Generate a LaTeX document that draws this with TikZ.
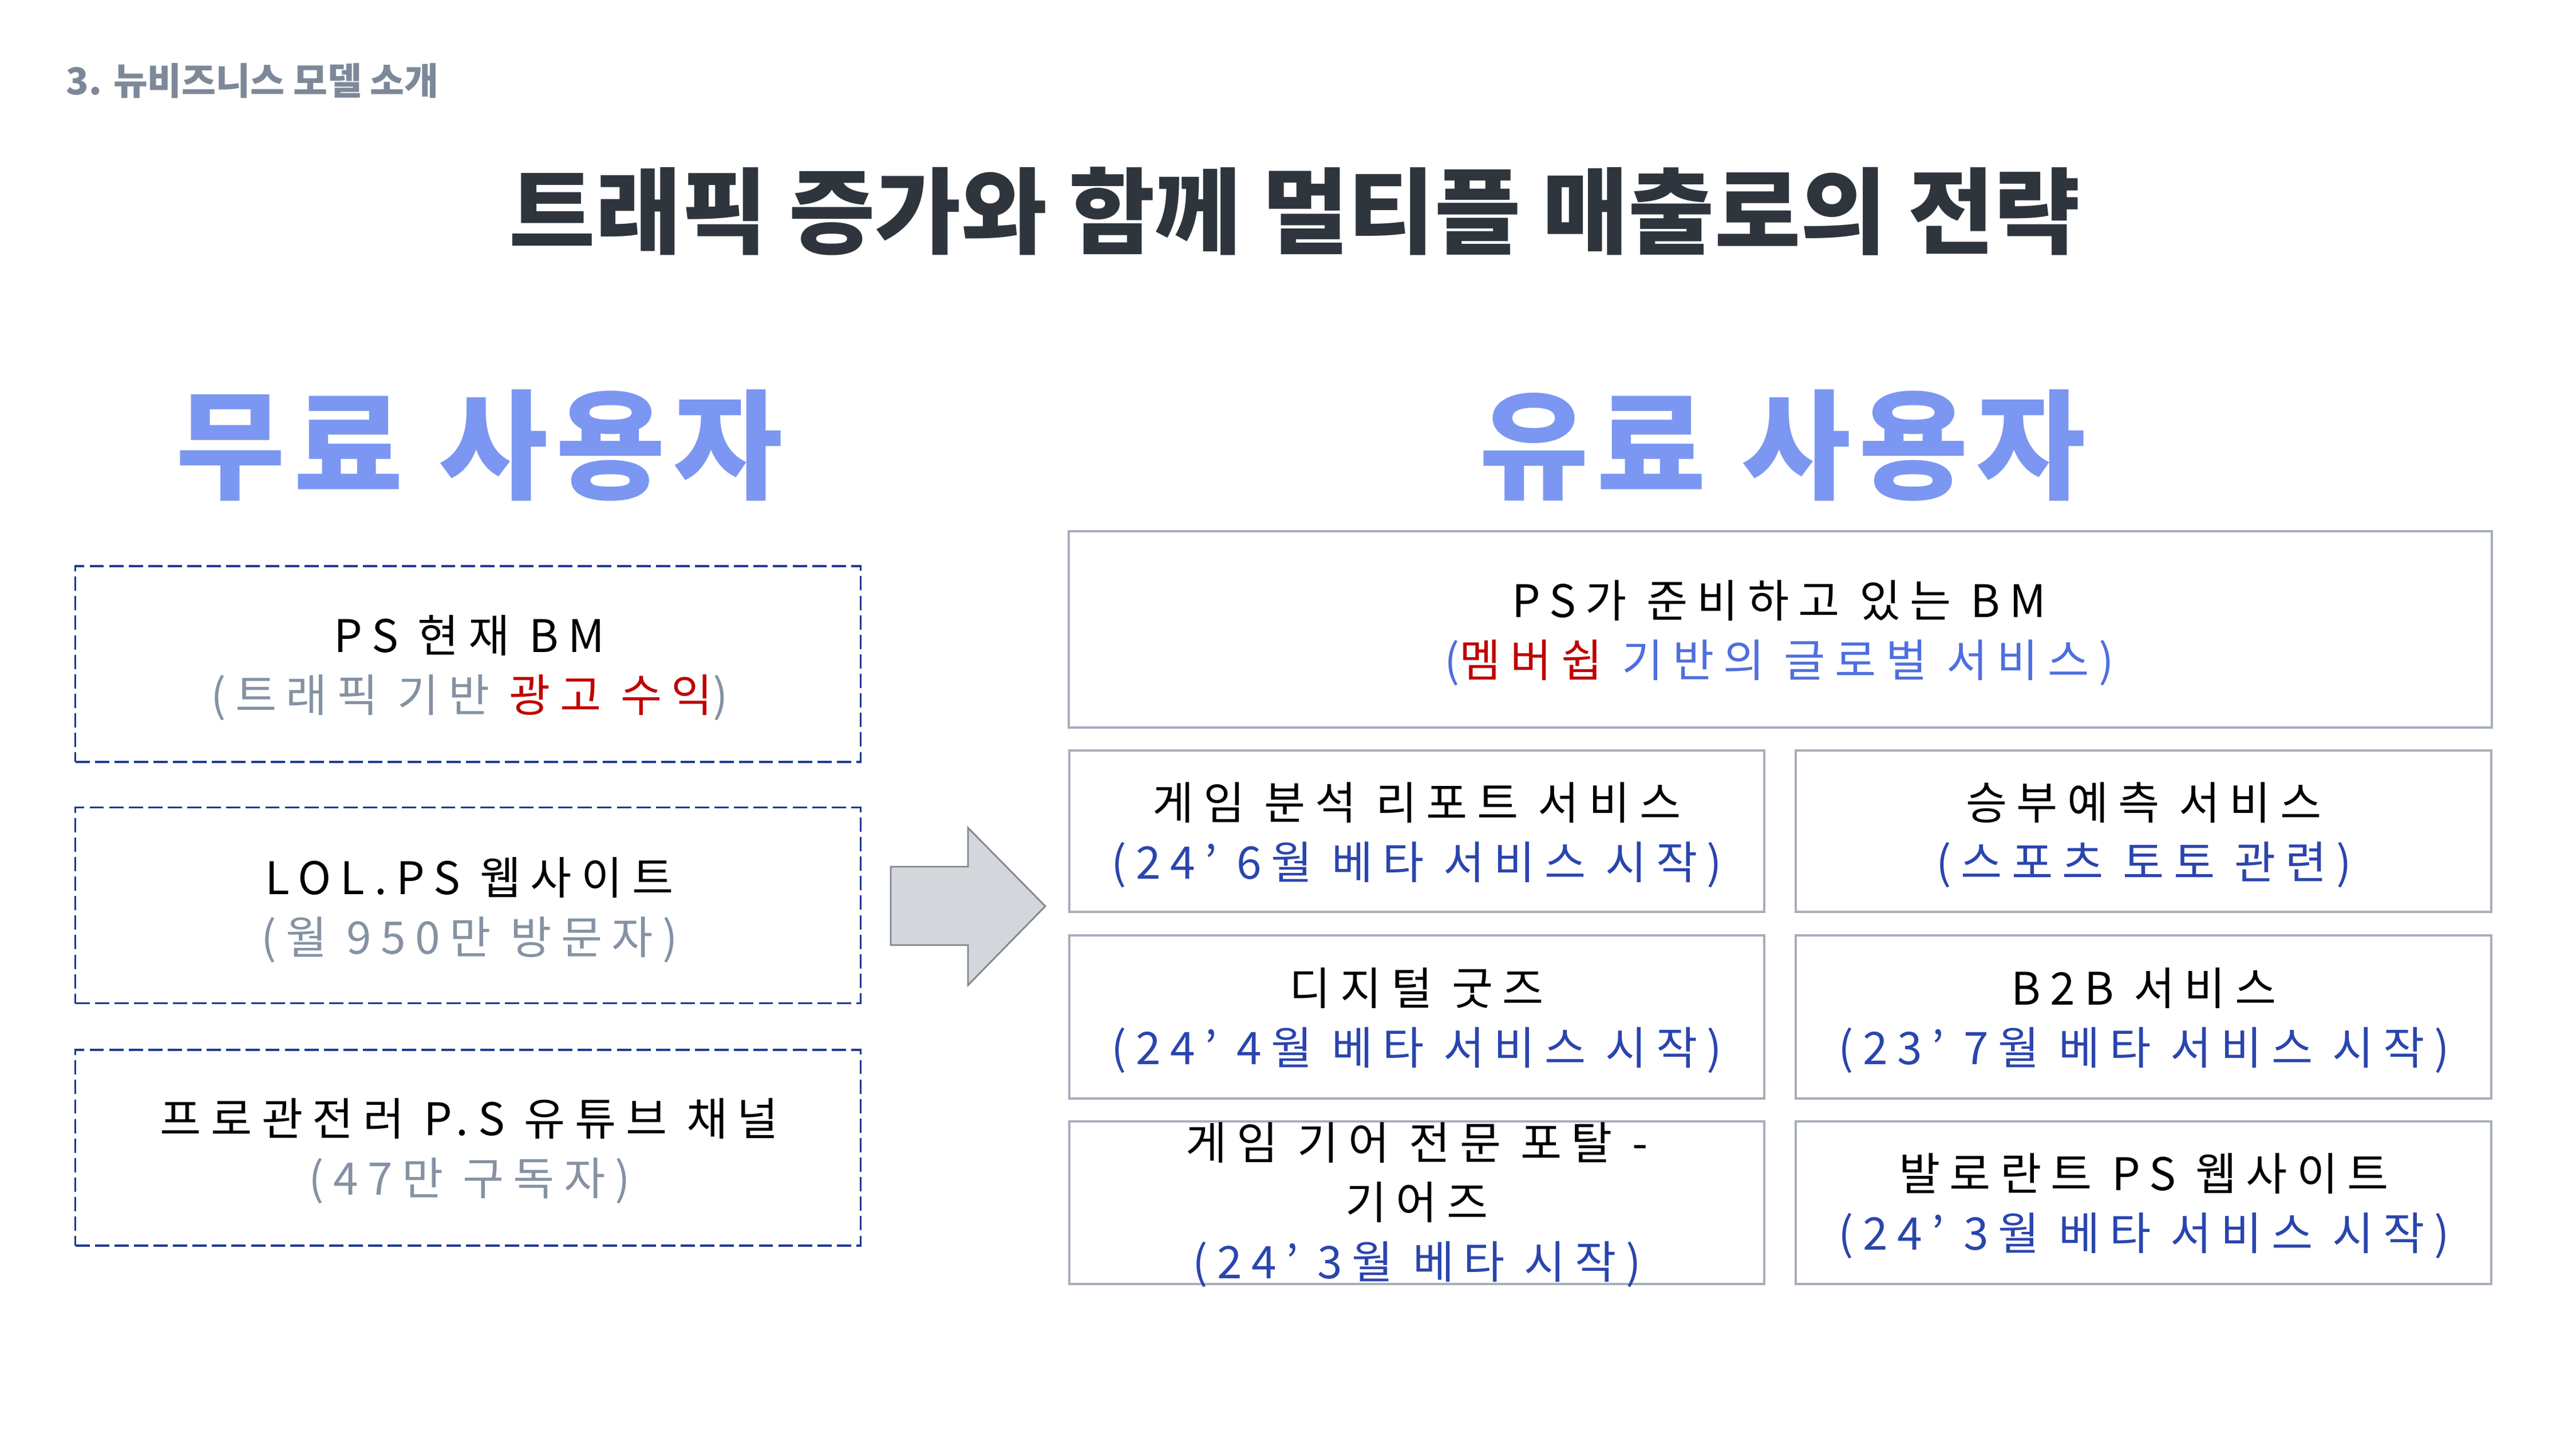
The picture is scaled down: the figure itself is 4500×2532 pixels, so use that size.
\documentclass[tikz,border=0pt]{standalone}
\usepackage{fontspec}
\setmainfont{Noto Sans CJK KR}
\newfontfamily\boxfont[LetterSpace=21]{Noto Sans CJK KR}
\newfontfamily\bigfont[LetterSpace=7]{Noto Sans CJK KR}
\definecolor{hdrgray}{HTML}{7D8998}
\definecolor{titledark}{HTML}{2F353C}
\definecolor{bigblue}{HTML}{7B97F2}
\definecolor{dashblue}{HTML}{1F3A93}
\definecolor{subgray}{HTML}{8592A3}
\definecolor{accred}{HTML}{C00000}
\definecolor{lightblue}{HTML}{4F6FDE}
\definecolor{darkblue}{HTML}{2A45AD}
\definecolor{boxgray}{HTML}{A6AEB9}
\definecolor{arrowfill}{HTML}{D3D6DB}
\definecolor{arrowline}{HTML}{80878E}
\tikzset{
  freebox/.style={draw=dashblue, line width=1pt, dash pattern=on 7.1pt off 2.6pt,
    inner sep=0pt, outer sep=0pt, minimum width=13.71cm, minimum height=3.42cm},
  paidbox/.style={draw=boxgray, line width=1.15pt, inner sep=0pt, outer sep=0pt},
  boxtext/.style={align=center, inner sep=0pt, text=black,
    font=\boxfont\fontsize{22.3}{29.6}\selectfont},
  bigtitle/.style={text=bigblue, font=\bigfont\bfseries\fontsize{59}{64}\selectfont, inner sep=0pt},
  blockarrow/.style={fill=arrowfill, draw=arrowline, line width=0.8pt, line join=miter}
}
\begin{document}
\begin{tikzpicture}[x=0.01cm, y=-0.01cm]
\useasboundingbox (0,0) rectangle (4500,2532);
\fill[white] (0,0) rectangle (4500,2532);

% header and title
\node[anchor=west, inner sep=0pt, text=hdrgray, font=\bfseries\fontsize{18.5}{22}\selectfont] (hdr) at (115,141) {3. 뉴비즈니스 모델 소개};
\node[inner sep=0pt, text=titledark, font=\bfseries\fontsize{46.5}{50}\selectfont] (title) at (2262,369) {트래픽 증가와 함께 멀티플 매출로의 전략};

\node[bigtitle] (free) at (838,778) {무료 사용자};
\node[bigtitle] (paid) at (3114,778) {유료 사용자};

% left dashed boxes
\node[freebox] (f1) at (817.5,1160) {};
\node[freebox] (f2) at (817.5,1581.5) {};
\node[freebox] (f3) at (817.5,2005) {};

\node[boxtext] (f1t) at (820,1167) {PS 현재 BM\\ {\color{subgray}(트래픽 기반 \textcolor{accred}{광고 수익})}};
\node[boxtext] (f2t) at (820,1590) {LOL.PS 웹사이트\\ {\color{subgray}(월 950만 방문자)}};
\node[boxtext] (f3t) at (820,2011) {프로관전러 P.S 유튜브 채널\\ {\color{subgray}(47만 구독자)}};

% block arrow
\draw[blockarrow] (1556,1514) -- (1691,1514) -- (1691,1446) -- (1826,1583) -- (1691,1721) -- (1691,1651) -- (1556,1651) -- cycle;

% right boxes
\node[paidbox, minimum width=24.84cm, minimum height=3.43cm] (p0) at (3110,1099.5) {};
\node[paidbox, minimum width=12.14cm, minimum height=2.82cm] (p1) at (2475,1452) {};
\node[paidbox, minimum width=12.15cm, minimum height=2.82cm] (p2) at (3744.5,1452) {};
\node[paidbox, minimum width=12.14cm, minimum height=2.85cm] (p3) at (2475,1776.5) {};
\node[paidbox, minimum width=12.15cm, minimum height=2.85cm] (p4) at (3744.5,1776.5) {};
\node[paidbox, minimum width=12.14cm, minimum height=2.84cm] (p5) at (2475,2101) {};
\node[paidbox, minimum width=12.15cm, minimum height=2.84cm] (p6) at (3744.5,2101) {};

\node[boxtext] (p0t) at (3108,1106) {PS가 준비하고 있는 BM\\ {\color{lightblue}(\textcolor{accred}{멤버쉽} 기반의 글로벌 서비스)}};
\node[boxtext] (p1t) at (2475,1459) {게임 분석 리포트 서비스\\ {\color{darkblue}(24’ 6월 베타 서비스 시작)}};
\node[boxtext] (p2t) at (3745,1459) {승부예측 서비스\\ {\color{darkblue}(스포츠 토토 관련)}};
\node[boxtext] (p3t) at (2475,1783) {디지털 굿즈\\ {\color{darkblue}(24’ 4월 베타 서비스 시작)}};
\node[boxtext] (p4t) at (3745,1783) {B2B 서비스\\ {\color{darkblue}(23’ 7월 베타 서비스 시작)}};
\node[boxtext] (p5t) at (2475,2105) {게임 기어 전문 포탈 -\\ 기어즈\\ {\color{darkblue}(24’ 3월 베타 시작)}};
\node[boxtext] (p6t) at (3745,2107) {발로란트 PS 웹사이트\\ {\color{darkblue}(24’ 3월 베타 서비스 시작)}};
\end{tikzpicture}
\end{document}
